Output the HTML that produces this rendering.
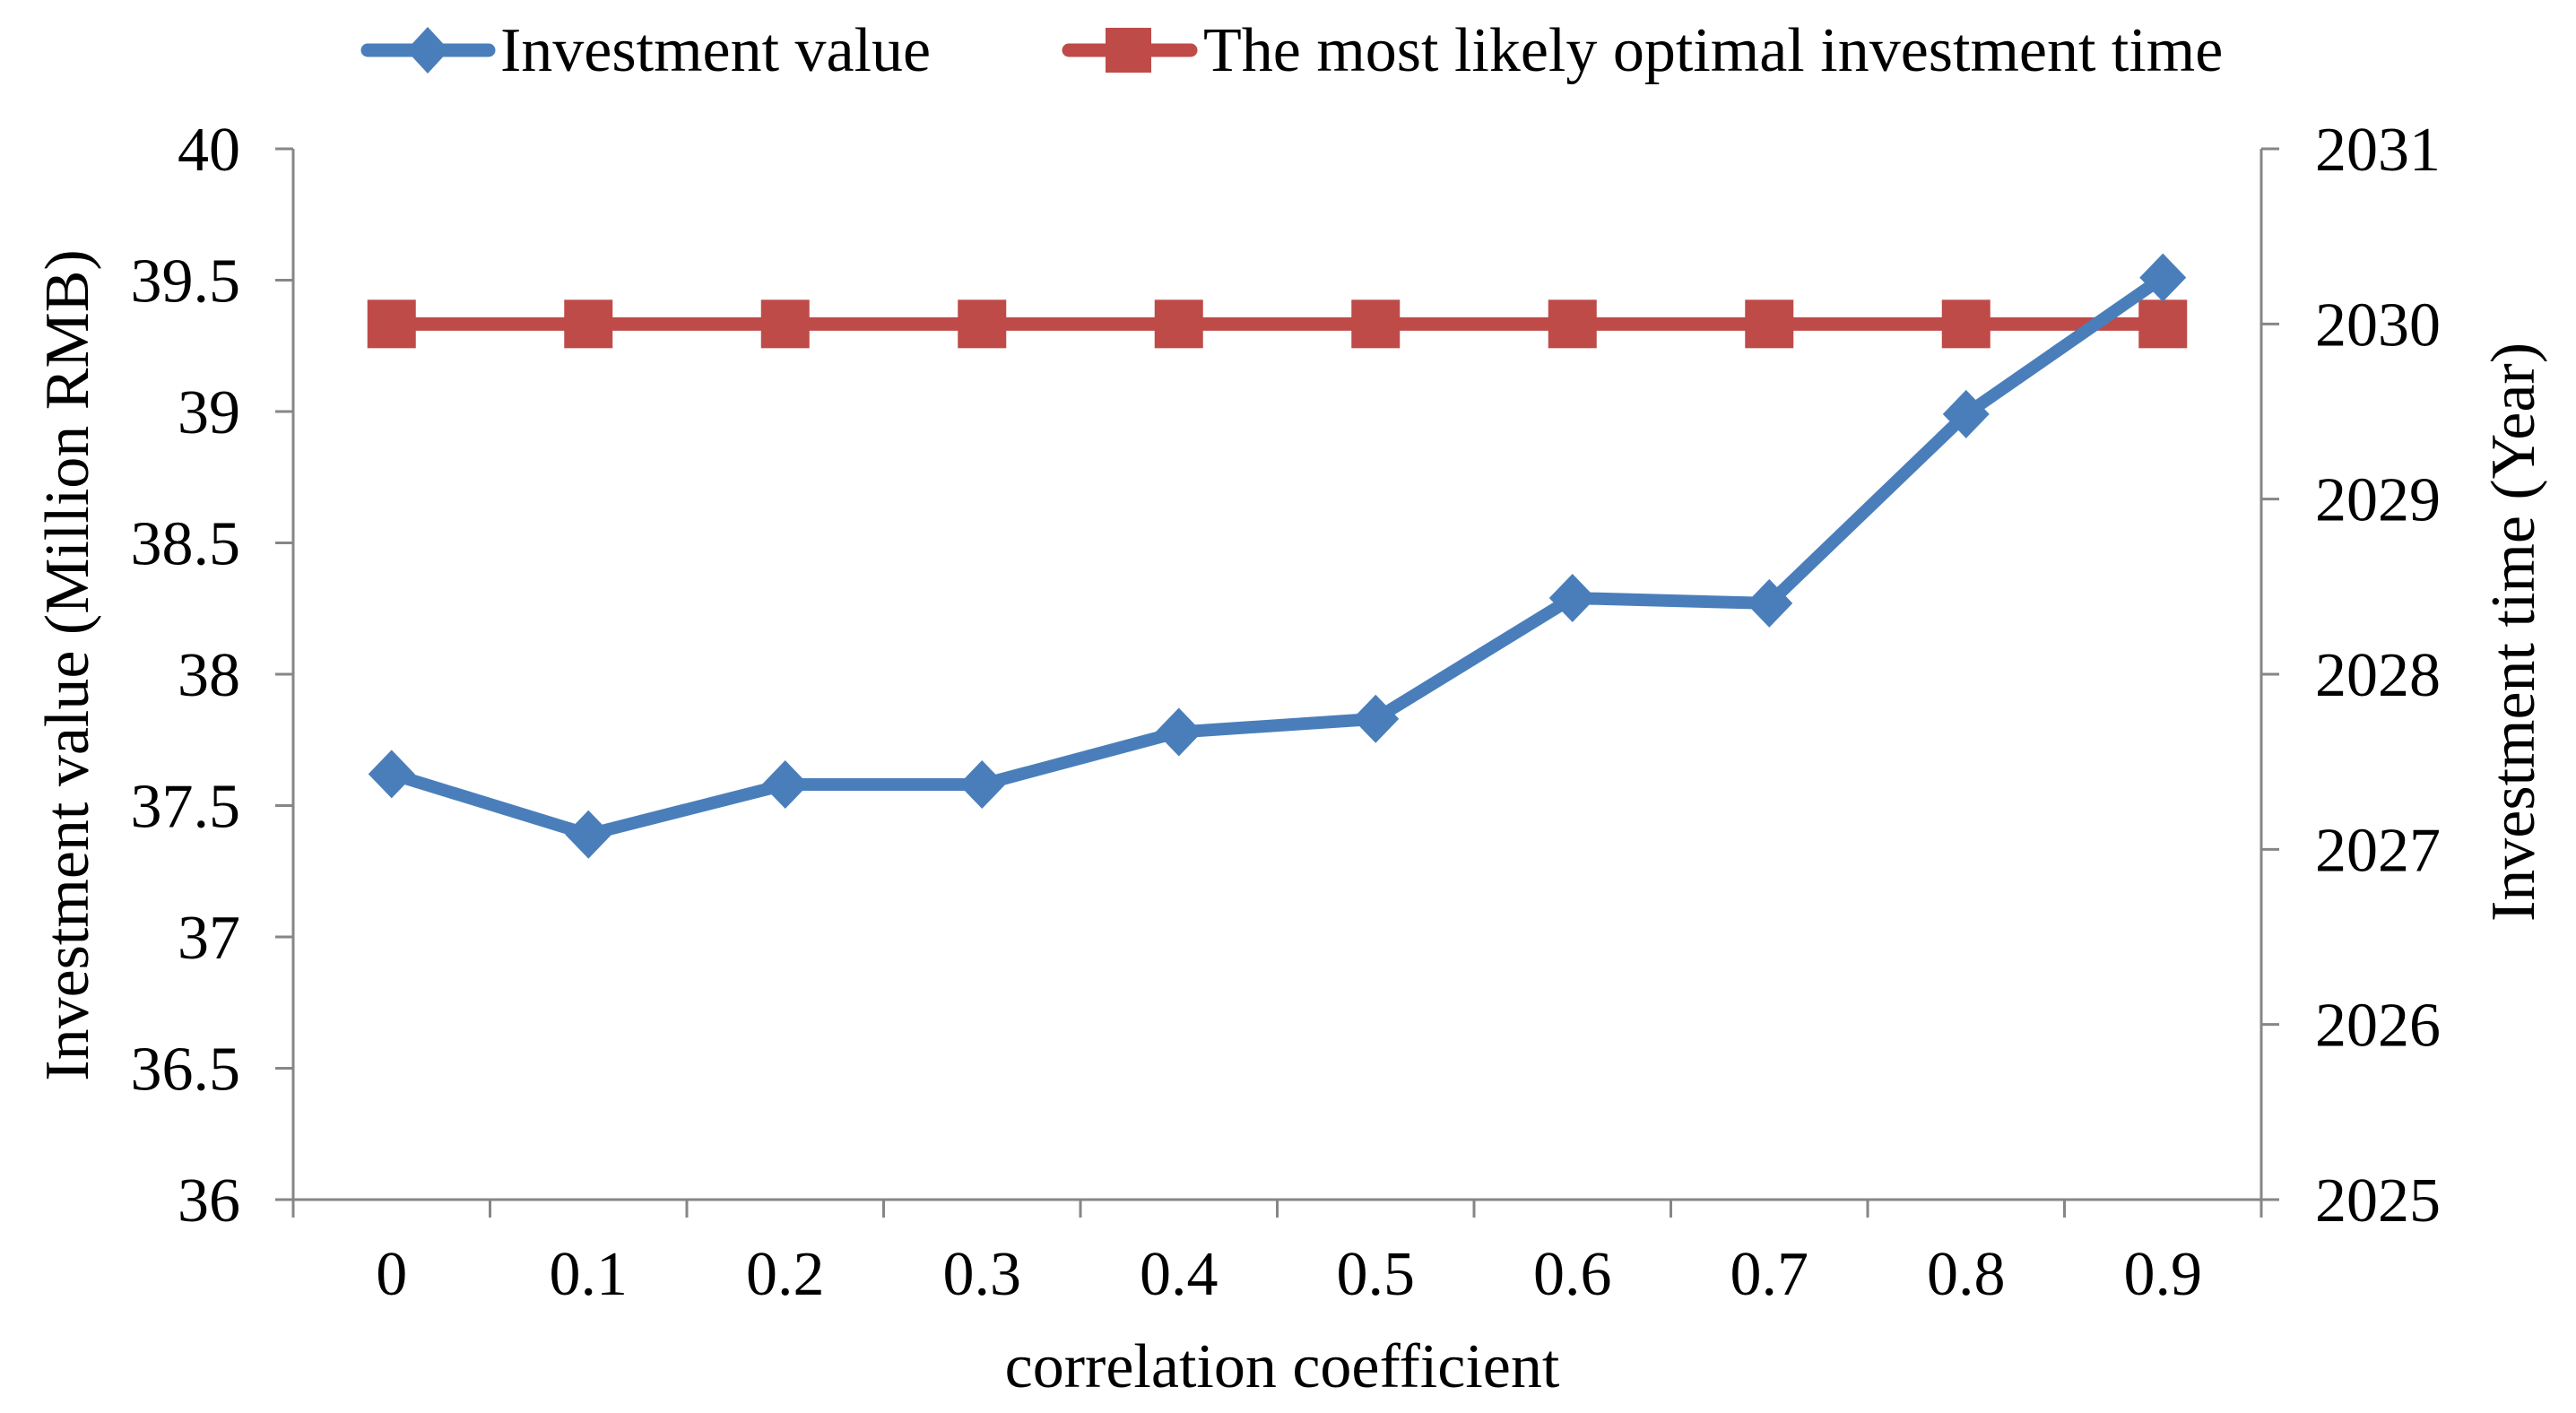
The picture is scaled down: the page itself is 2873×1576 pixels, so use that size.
<!DOCTYPE html>
<html><head><meta charset="utf-8"><style>
html,body{margin:0;padding:0;background:#fff;}
svg{display:block;font-family:"Liberation Serif",serif;}
</style></head><body>
<svg id="chart" width="2873" height="1576" viewBox="0 0 2873 1576" xmlns="http://www.w3.org/2000/svg">
<g id="legend">
 <g>
  <line x1="410" y1="56" x2="545" y2="56" stroke="#4a7ebb" stroke-width="15" stroke-linecap="round"/>
  <polygon points="477,30 501,56 477,82 453,56" fill="#4a7ebb"/>
  <text x="558" y="79" font-size="70" fill="#000">Investment value</text>
 </g>
 <g>
  <line x1="1192" y1="56" x2="1328" y2="56" stroke="#be4b48" stroke-width="15" stroke-linecap="round"/>
  <rect x="1233" y="31" width="51" height="50" fill="#be4b48"/>
  <text x="1342" y="79" font-size="70" fill="#000">The most likely optimal investment time</text>
 </g>
</g>
<g id="axes"></g>
<g id="series"></g>
<text transform="translate(98,742) rotate(-90)" text-anchor="middle" font-size="70">Investment value (Million RMB)</text>
<text transform="translate(2826,705) rotate(-90)" text-anchor="middle" font-size="70">Investment time (Year)</text>
<text x="1430" y="1547" text-anchor="middle" font-size="70">correlation coefficient</text>
</svg>
<script>
const categories = ["0","0.1","0.2","0.3","0.4","0.5","0.6","0.7","0.8","0.9"];
const investmentValue = [37.62,37.39,37.58,37.58,37.78,37.83,38.29,38.27,38.99,39.51];
const optimalTime = [2030,2030,2030,2030,2030,2030,2030,2030,2030,2030];
const leftTicks = [36,36.5,37,37.5,38,38.5,39,39.5,40];
const rightTicks = [2025,2026,2027,2028,2029,2030,2031];

const NS="http://www.w3.org/2000/svg";
const L=327,R=2522,T=166,B=1338;
const bw=(R-L)/categories.length;
const xPos=i=>L+bw*(i+0.5);
const yLeft=v=>B-(v-36)/(40-36)*(B-T);
const yRight=v=>B-(v-2025)/(2031-2025)*(B-T);
function mk(tag,attrs,parent){const e=document.createElementNS(NS,tag);for(const k in attrs)e.setAttribute(k,attrs[k]);parent.appendChild(e);return e;}
const axes=document.getElementById('axes');
const gray="#868686";
let e;
e=mk('line',{x1:L,y1:T,x2:L,y2:B,stroke:gray,'stroke-width':3},axes);


e=mk('line',{x1:R,y1:T,x2:R,y2:B,stroke:gray,'stroke-width':3},axes);


e=mk('line',{x1:L,y1:B,x2:R,y2:B,stroke:gray,'stroke-width':3},axes);


leftTicks.forEach(v=>{
  const y=yLeft(v);
  mk('line',{x1:L-20,y1:y,x2:L,y2:y,stroke:gray,'stroke-width':3},axes);
  const t=mk('text',{x:268,y:y+24,'text-anchor':'end','font-size':70},axes);
  t.textContent=String(v);
  
  
});
rightTicks.forEach(v=>{
  const y=yRight(v);
  mk('line',{x1:R,y1:y,x2:R+20,y2:y,stroke:gray,'stroke-width':3},axes);
  const t=mk('text',{x:2582,y:y+24,'font-size':70},axes);
  t.textContent=String(v);
  
  
});
for(let i=0;i<=categories.length;i++){
  const x=L+bw*i;
  mk('line',{x1:x,y1:B,x2:x,y2:B+20,stroke:gray,'stroke-width':3},axes);
}
categories.forEach((c,i)=>{
  const t=mk('text',{x:xPos(i),y:1444,'text-anchor':'middle','font-size':70},axes);
  t.textContent=c;
  
  
});
const series=document.getElementById('series');
const rp=optimalTime.map((v,i)=>xPos(i)+','+yRight(v)).join(' ');
e=mk('polyline',{points:rp,fill:'none',stroke:'#be4b48','stroke-width':15},series);


optimalTime.forEach((v,i)=>{
  const r=mk('rect',{x:xPos(i)-27,y:yRight(v)-27,width:54,height:54,fill:'#be4b48'},series);
  
  
});
const bp=investmentValue.map((v,i)=>xPos(i)+','+yLeft(v)).join(' ');
e=mk('polyline',{points:bp,fill:'none',stroke:'#4a7ebb','stroke-width':14,'stroke-linejoin':'round'},series);


investmentValue.forEach((v,i)=>{
  const x=xPos(i),y=yLeft(v);
  const p=mk('polygon',{points:`${x},${y-27} ${x+26},${y} ${x},${y+27} ${x-26},${y}`,fill:'#4a7ebb'},series);
  
  
});
</script>
</body></html>
